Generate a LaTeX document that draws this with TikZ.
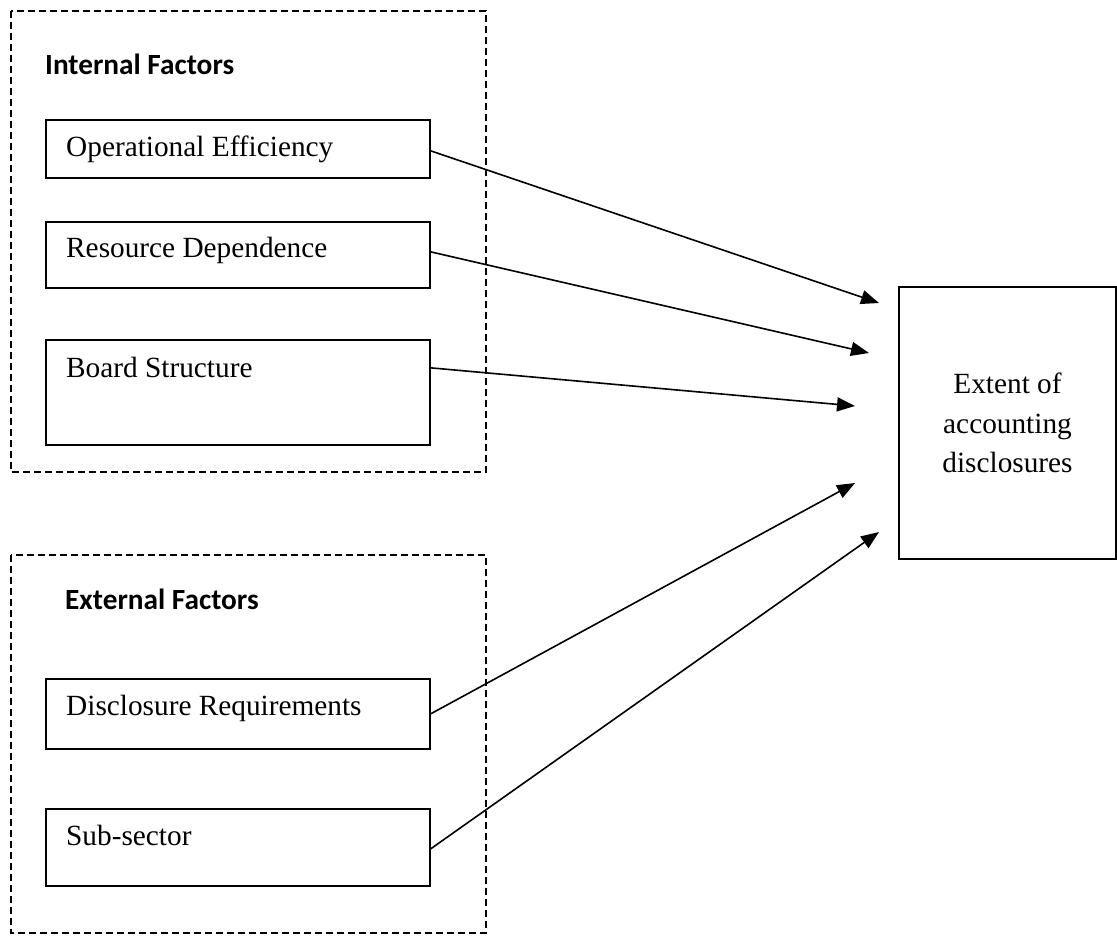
\documentclass[tikz,border=0pt]{standalone}
\usepackage{fontspec}
\setmainfont{Liberation Serif}
\newfontfamily\calibri{Carlito}
\usetikzlibrary{arrows.meta}
\begin{document}
\begin{tikzpicture}[x=1pt,y=-1pt,
  group/.style={draw, line width=1.3pt, dash pattern=on 7pt off 4pt},
  factorbox/.style={draw, line width=1.7pt, anchor=north west, inner sep=0pt, minimum width=384pt},
  boxtext/.style={anchor=base west, inner sep=0pt, font=\fontsize{29.3}{40}\selectfont},
  grouptitle/.style={anchor=base west, inner sep=0pt, font=\calibri\bfseries\fontsize{29.3}{36}\selectfont},
  outbox/.style={draw, line width=1.7pt, minimum width=217pt, minimum height=272pt, inner sep=0pt, align=center, font=\fontsize{29.3}{39.5}\selectfont},
  link/.style={line width=1.6pt, -{Triangle[length=18pt,width=14pt]}}
]
\useasboundingbox (0,0) rectangle (1117,936);

% groups
\draw[group] (11,11) rectangle (486,472);
\draw[group] (11,555) rectangle (486,933);

\node[grouptitle] (intl) at (45,75) {Internal Factors};
\node[grouptitle] (extl) at (65,609) {External Factors};

% factor boxes
\node[factorbox, minimum height=58pt] (oe) at (45,119) {};
\node[factorbox, minimum height=66pt] (rd) at (45,221) {};
\node[factorbox, minimum height=105pt] (bs) at (45,339) {};
\node[factorbox, minimum height=70pt] (dr) at (45,678) {};
\node[factorbox, minimum height=77pt] (ss) at (45,808) {};

\node[boxtext] (oet) at (66,157) {Operational Efficiency};
\node[boxtext] (rdt) at (66,258) {Resource Dependence};
\node[boxtext] (bst) at (66,377) {Board Structure};
\node[boxtext] (drt) at (66,715) {Disclosure Requirements};
\node[boxtext] (sst) at (66,845) {Sub-sector};

% outcome
\node[outbox] (out) at (1007.5,423) {Extent of\\accounting\\disclosures};

% arrow ends
\coordinate (e1) at (879,303);
\coordinate (e2) at (869,353);
\coordinate (e3) at (855,406);
\coordinate (e4) at (855,483);
\coordinate (e5) at (879,532);

\draw[link] ([yshift=-2pt]oe.east) -- (e1);
\draw[link] ([yshift=3pt]rd.east) -- (e2);
\draw[link] ([yshift=24.5pt]bs.east) -- (e3);
\draw[link] (dr.east) -- (e4);
\draw[link] ([yshift=-1.5pt]ss.east) -- (e5);
\end{tikzpicture}
\end{document}
